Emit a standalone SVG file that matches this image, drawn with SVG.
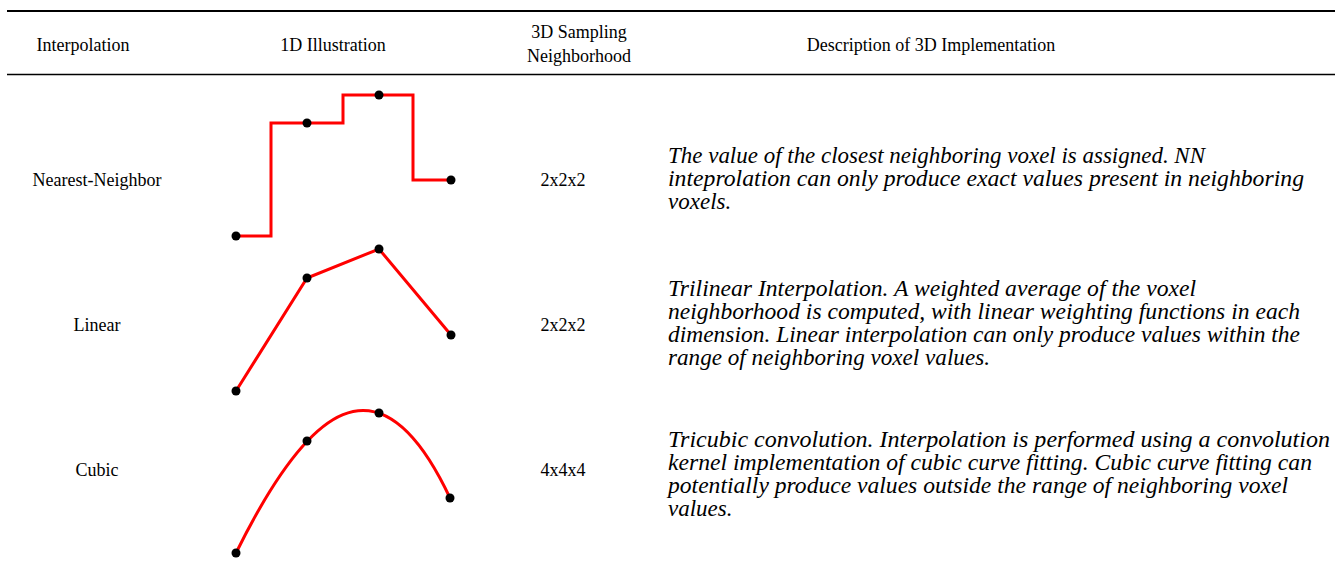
<svg xmlns="http://www.w3.org/2000/svg" width="1335" height="569" viewBox="0 0 1335 569">
<style>
.h{font-family:"Liberation Serif","Times New Roman",serif;font-size:18px;fill:#000;text-anchor:middle}
.d{font-family:"Liberation Serif","Times New Roman",serif;font-size:23px;font-style:italic;fill:#000}
.rule{stroke:#000;fill:none}
.curve{stroke:#ff0000;stroke-width:3;fill:none;stroke-linejoin:miter}
.dot{fill:#000}
</style>
<rect width="1335" height="569" fill="#fff"/>
<g id="header">
<line class="rule" x1="7" y1="11" x2="1335" y2="11" stroke-width="2.2"/>
<line class="rule" x1="7" y1="74.5" x2="1335" y2="74.5" stroke-width="1.4"/>
<text class="h" x="83" y="51">Interpolation</text>
<text class="h" x="333" y="51">1D Illustration</text>
<text class="h" x="579" y="38">3D Sampling</text>
<text class="h" x="579" y="62">Neighborhood</text>
<text class="h" x="931" y="51">Description of 3D Implementation</text>
</g>
<g id="row-nearest">
<text class="h" x="97" y="186">Nearest-Neighbor</text>
<path class="curve" d="M236,236 H271 V123 H343 V95 H413 V180 H451"/>
<circle class="dot" cx="236" cy="236" r="4.5"/>
<circle class="dot" cx="307" cy="123" r="4.5"/>
<circle class="dot" cx="379" cy="95" r="4.5"/>
<circle class="dot" cx="451" cy="180" r="4.5"/>
<text class="h" x="563" y="186">2x2x2</text>
<text class="d" x="668" y="163" textLength="537" lengthAdjust="spacingAndGlyphs">The value of the closest neighboring voxel is assigned. NN</text>
<text class="d" x="668" y="186" textLength="636" lengthAdjust="spacingAndGlyphs">inteprolation can only produce exact values present in neighboring</text>
<text class="d" x="668" y="209">voxels.</text>
</g>
<g id="row-linear">
<text class="h" x="97" y="331">Linear</text>
<path class="curve" d="M236,391 L307,278 L379,249 L451,335"/>
<circle class="dot" cx="236" cy="391" r="4.5"/>
<circle class="dot" cx="307" cy="278" r="4.5"/>
<circle class="dot" cx="379" cy="249" r="4.5"/>
<circle class="dot" cx="451" cy="335" r="4.5"/>
<text class="h" x="563" y="331">2x2x2</text>
<text class="d" x="668" y="296" textLength="528" lengthAdjust="spacingAndGlyphs">Trilinear Interpolation. A weighted average of the voxel</text>
<text class="d" x="668" y="319" textLength="632" lengthAdjust="spacingAndGlyphs">neighborhood is computed, with linear weighting functions in each</text>
<text class="d" x="668" y="342" textLength="632" lengthAdjust="spacingAndGlyphs">dimension. Linear interpolation can only produce values within the</text>
<text class="d" x="668" y="365" textLength="322" lengthAdjust="spacingAndGlyphs">range of neighboring voxel values.</text>
</g>
<g id="row-cubic">
<text class="h" x="97" y="476">Cubic</text>
<path class="curve" d="M236,553 C307.3,408.7 378.7,346.8 450,498"/>
<circle class="dot" cx="236" cy="553" r="4.5"/>
<circle class="dot" cx="307" cy="441" r="4.5"/>
<circle class="dot" cx="379" cy="413" r="4.5"/>
<circle class="dot" cx="450" cy="498" r="4.5"/>
<text class="h" x="563" y="476">4x4x4</text>
<text class="d" x="668" y="447" textLength="662" lengthAdjust="spacingAndGlyphs">Tricubic convolution. Interpolation is performed using a convolution</text>
<text class="d" x="668" y="470" textLength="644" lengthAdjust="spacingAndGlyphs">kernel implementation of cubic curve fitting. Cubic curve fitting can</text>
<text class="d" x="668" y="493" textLength="620" lengthAdjust="spacingAndGlyphs">potentially produce values outside the range of neighboring voxel</text>
<text class="d" x="668" y="516">values.</text>
</g>
</svg>
